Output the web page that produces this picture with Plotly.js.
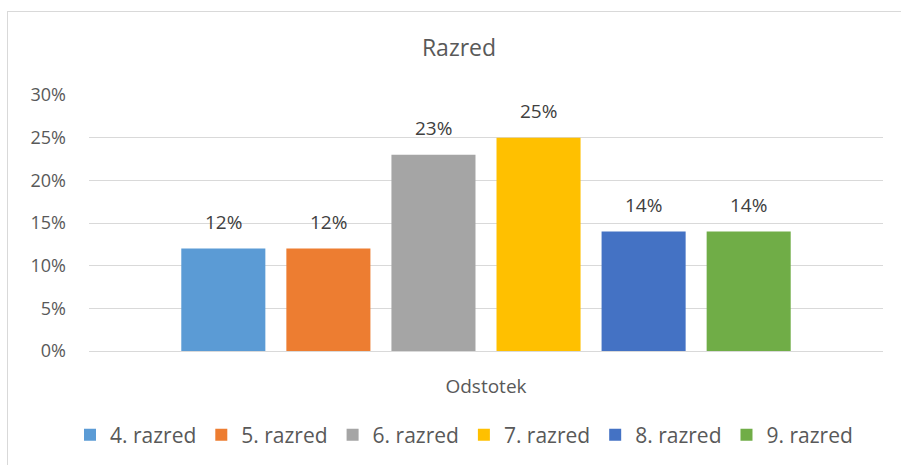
<!DOCTYPE html>
<html>
<head>
<meta charset="utf-8">
<script src="https://cdn.plot.ly/plotly-3.0.1.min.js"></script>
<style>
  body { margin: 0; background: #fff; overflow: hidden; }
  #frame { position: absolute; left: 7px; top: 11px; width: 920px; height: 480px; border: 1px solid #d9d9d9; }
  #chart { position: absolute; left: 0; top: 0; width: 901px; height: 465px; overflow: hidden; }
</style>
</head>
<body>
<div id="frame"></div>
<div id="chart"></div>
<script>
  const category = ["Odstotek"];
  const seriesNames = ["4. razred", "5. razred", "6. razred", "7. razred", "8. razred", "9. razred"];
  const seriesValues = [0.12, 0.12, 0.23, 0.25, 0.14, 0.14];
  const seriesColors = ["#5B9BD5", "#ED7D31", "#A5A5A5", "#FFC000", "#4472C4", "#70AD47"];
  const yTicks = [0, 0.05, 0.1, 0.15, 0.2, 0.25, 0.3];

  const font = "Open Sans, Liberation Sans, sans-serif";
  const textColor = "#595959";
  const bargap = 0.206;
  const bargroupgap = 0.2;

  const data = seriesNames.map((name, i) => ({
    type: "bar",
    name: name,
    x: category,
    y: [seriesValues[i]],
    marker: { color: seriesColors[i] },
    hoverinfo: "none",
  }));

  // data labels: annotations at each bar's centre (category units), a bit above the top
  const slot = (1 - bargap) / seriesNames.length;
  const labels = seriesValues.map((v, i) => ({
    xref: "x",
    yref: "y",
    x: -(1 - bargap) / 2 + (i + 0.5) * slot,
    y: v,
    text: Math.round(v * 100) + "%",
    showarrow: false,
    yanchor: "bottom",
    yshift: 12,
    font: { family: font, size: 19, color: "#404040" },
  }));

  const layout = {
    width: 901,
    height: 465,
    paper_bgcolor: "rgba(0,0,0,0)",
    plot_bgcolor: "rgba(0,0,0,0)",
    margin: { l: 89, r: 18, t: 95, b: 114 },
    font: { family: font, color: textColor },
    title: {
      text: "Razred",
      font: { family: font, size: 23, color: textColor },
      xref: "container",
      x: 459 / 901,
      xanchor: "center",
      yref: "container",
      y: 1 - 48 / 465,
      yanchor: "middle",
    },
    barmode: "group",
    bargap: bargap,
    bargroupgap: bargroupgap,
    showlegend: true,
    legend: {
      orientation: "h",
      xref: "container",
      x: 464 / 901,
      xanchor: "center",
      yref: "container",
      y: 1 - 435 / 465,
      yanchor: "middle",
      font: { family: font, size: 21, color: textColor },
      traceorder: "normal",
    },
    annotations: labels,
    xaxis: {
      type: "category",
      showline: true,
      linecolor: "#d9d9d9",
      linewidth: 1,
      showgrid: false,
      ticks: "",
      ticklabelstandoff: 18,
      tickfont: { family: font, size: 19, color: textColor },
      fixedrange: true,
    },
    yaxis: {
      range: [0, 0.3],
      tickvals: yTicks,
      tickformat: ".0%",
      showgrid: true,
      gridcolor: "#d9d9d9",
      gridwidth: 1,
      zeroline: false,
      showline: false,
      ticks: "",
      ticklabelstandoff: 22,
      tickfont: { family: font, size: 18, color: textColor },
      fixedrange: true,
    },
  };

  Plotly.newPlot("chart", data, layout, { displayModeBar: false, staticPlot: true });
</script>
</body>
</html>
